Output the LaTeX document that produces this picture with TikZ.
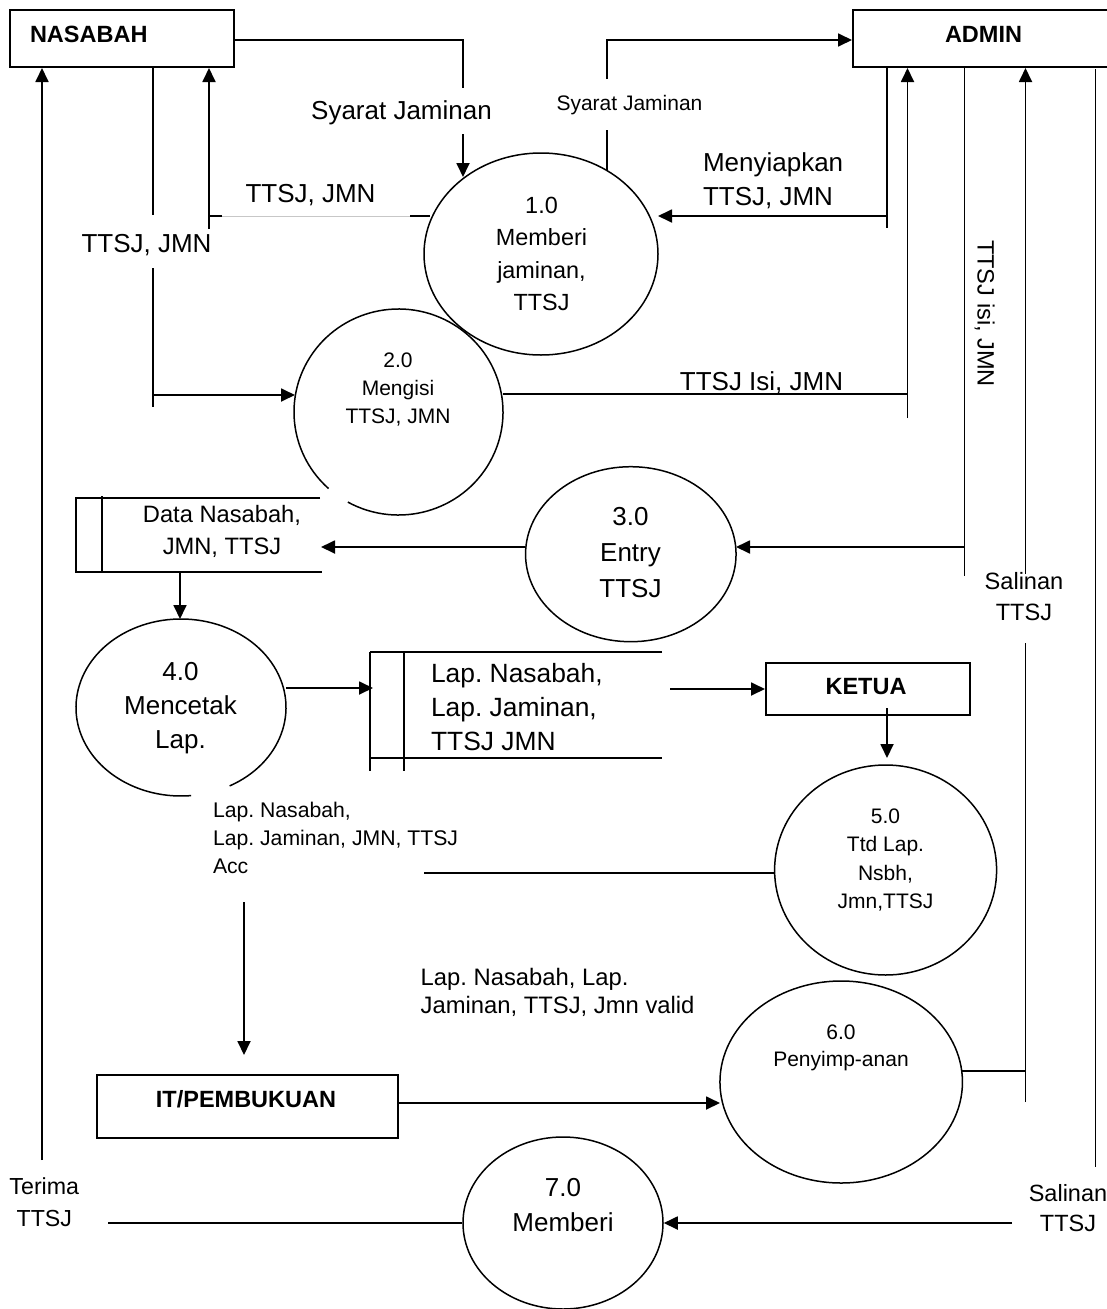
\documentclass[tikz,border=0pt]{standalone}
\usepackage{fontspec}
\setmainfont{Liberation Sans}
\usetikzlibrary{arrows.meta,shapes.geometric}
\frenchspacing
\newcommand\cs{\rule[-0.142em]{0pt}{1em}}
\newcommand\fsz[2]{\fontsize{#1pt}{#2pt}\selectfont}
\begin{document}
\begin{tikzpicture}[x=1pt,y=-1pt,
  txt/.style={inner sep=0pt, outer sep=0pt, align=center},
  bt/.style={txt, font=\fsz{23.5}{28}\bfseries},
  box/.style={draw, line width=2pt, rectangle, inner sep=0pt, anchor=north west},
  proc/.style={ellipse, draw, line width=1.5pt, inner sep=0pt},
  el/.style={line width=1.5pt},
  ln/.style={line width=1.3pt},
  ar/.style={line width=1.8pt, -{Triangle[length=14pt,width=13pt]}},
  st/.style={line width=2pt}]
\useasboundingbox (0,0) rectangle (1107,1309);
\fill[white] (0,0) rectangle (1107,1309);

% external entities
\node[box, minimum width=224pt, minimum height=57pt] (nas) at (9,9) {};
\node[bt, anchor=west] (nasT) at (30,34) {\cs NASABAH};
\node[box, minimum width=263pt, minimum height=57pt] (adm) at (852,9) {};
\node[bt] (admT) at (983.5,34) {\cs ADMIN};
\node[box, minimum width=203.5pt, minimum height=52pt] (ket) at (765,662) {};
\node[bt] (ketT) at (866,686) {\cs KETUA};
\node[box, minimum width=301pt, minimum height=63pt] (itb) at (96.3,1074) {};
\node[bt] (itT) at (246,1099) {\cs IT/PEMBUKUAN};

% processes
\node[proc, minimum width=234pt, minimum height=202pt] (p1) at (541,254) {};
\node[txt, font=\fsz{23.4}{32.3}] (p1T) at (541.5,253.5) {\cs 1.0\\\cs Memberi\\\cs jaminan,\\\cs TTSJ};
\node[proc, draw=none, minimum width=209pt, minimum height=206pt] (p2) at (398.5,412) {};
\draw[el] (p2.center) ++(241:104.5pt and 103pt) arc[start angle=241, end angle=588, x radius=104.5pt, y radius=103pt];
\node[txt, font=\fsz{21}{28}] (p2T) at (398,388) {\cs 2.0\\\cs Mengisi\\\cs TTSJ, JMN};
\node[proc, minimum width=210.5pt, minimum height=175pt] (p3) at (630.8,554.2) {};
\node[txt, font=\fsz{26}{36}] (p3T) at (630.5,552) {\cs 3.0\\\cs Entry\\\cs TTSJ};
\node[proc, draw=none, minimum width=210pt, minimum height=177pt] (p4) at (181,707.5) {};
\draw[el] (p4.center) ++(297.6:105pt and 88.5pt) arc[start angle=297.6, end angle=635.5, x radius=105pt, y radius=88.5pt];
\node[txt, font=\fsz{26}{34}] (p4T) at (180.5,706) {\cs 4.0\\\cs Mencetak\\\cs Lap.};
\node[proc, minimum width=222pt, minimum height=210pt] (p5) at (885.6,870) {};
\node[txt, font=\fsz{21}{28.3}] (p5T) at (885.5,858.5) {\cs 5.0\\\cs Ttd Lap.\\\cs Nsbh,\\\cs Jmn,TTSJ};
\node[proc, minimum width=242.5pt, minimum height=202pt] (p6) at (841.2,1082) {};
\node[txt, font=\fsz{21}{27}] (p6T) at (841,1046.5) {\cs 6.0\\\cs Penyimp-anan};
\node[proc, minimum width=200pt, minimum height=172pt] (p7) at (563,1223) {};
\node[txt, font=\fsz{26}{35}] (p7T) at (563,1204.5) {\cs 7.0\\\cs Memberi};

% data stores
\draw[st] (320,498) -- (76,498) -- (76,572) -- (322,572);
\draw[st] (102,496) -- (102,572);
\node[txt, font=\fsz{23.7}{31.7}] (ds1) at (222,530) {\cs Data Nasabah,\\\cs JMN, TTSJ};
\draw[st] (662,652) -- (370,652);
\draw[st] (370,758) -- (662,758);
\draw[st] (370,652) -- (370,771);
\draw[st] (404,652) -- (404,771);
\node[txt, align=left, anchor=west, font=\fsz{26.4}{34}] (ds2) at (431,707) {\cs Lap. Nasabah,\\\cs Lap. Jaminan,\\\cs TTSJ JMN};

% flow labels
\node[txt, font=\fsz{26}{32}] (lsj1) at (401.5,111) {\cs Syarat Jaminan};
\node[txt, font=\fsz{21}{26}] (lsj2) at (629.5,104) {\cs Syarat Jaminan};
\node[txt, align=left, anchor=west, font=\fsz{26}{34}] (lmen) at (703,179) {\cs Menyiapkan\\\cs TTSJ, JMN};
\node[txt, font=\fsz{26}{32}] (ltj1) at (310.5,193) {\cs TTSJ, JMN};
\node[txt, font=\fsz{26}{32}] (ltj2) at (146.5,243) {\cs TTSJ, JMN};
\node[txt, font=\fsz{26}{32}] (ltji) at (761.5,381) {\cs TTSJ Isi, JMN};
\node[txt, rotate=-90, font=\fsz{23.6}{28}] (lrot) at (986,313.5) {\cs TTSJ isi, JMN};
\node[txt, font=\fsz{23.6}{31}] (lsal1) at (1024,596.5) {\cs Salinan\\\cs TTSJ};
\node[txt, align=left, anchor=west, font=\fsz{21.2}{28.3}] (lacc) at (213,838) {\cs Lap. Nasabah,\\\cs Lap. Jaminan, JMN, TTSJ\\\cs Acc};
\node[txt, align=left, anchor=west, font=\fsz{23.8}{28.3}] (lval) at (420.7,991) {\cs Lap. Nasabah, Lap.\\\cs Jaminan, TTSJ, Jmn valid};
\node[txt, font=\fsz{23.2}{32}] (lter) at (44.3,1202) {\cs Terima\\\cs TTSJ};
\node[txt, font=\fsz{23.5}{30.5}] (lsal2) at (1068,1208) {\cs Salinan\\\cs TTSJ};

% connectors
% NASABAH -> 1.0 (Syarat Jaminan)
\draw[ln] (nas.east |- 0,40) -| (463,88);
\draw[ar] (463,134) -- (463,177);
% 1.0 -> ADMIN (Syarat Jaminan)
\draw[ln] (607,170) -- (607,130);
\draw[ar] (607,79) |- (adm.west |- 0,40);
% ADMIN -> 1.0 (Menyiapkan)
\draw[ln] (adm.south -| 887,0) -- (887,228);
\draw[ar] (887,216) -- (658,216);
% 1.0 -> NASABAH (TTSJ, JMN)
\draw[ln] (430,216) -- (410,216);
\draw[line width=0.8pt, black!22] (410,216) -- (222,216);
\draw[ln] (222,216) -- (209,216);
\draw[ar] (209,229) -- (nas.south -| 209,0);
% NASABAH -> 2.0
\draw[ln] (nas.south -| 153,0) -- (153,215);
\draw[ln] (153,268) -- (153,407);
\draw[ar] (153,395) -- (295,395);
% 2.0 -> ADMIN
\draw[ln] (503,394) -- (907.5,394);
\draw[ar] (907.5,418) -- (adm.south -| 907.5,0);
% ADMIN -> 3.0
\draw[ln] (adm.south -| 964.5,0) -- (964.5,576);
\draw[ar] (964.5,547) -- (736,547);
% 3.0 -> store 1
\draw[ar] (525,547) -- (321,547);
% store 1 -> 4.0
\draw[ar] (180,572) -- (180,619);
% 4.0 -> store 2
\draw[ar] (286,688) -- (373,688);
% store 2 -> KETUA
\draw[ar] (670,689) -- (ket.west |- 0,689);
% KETUA -> 5.0
\draw[ar] (887,708) -- (887,758);
% 5.0 -> IT
\draw[ln] (p5.west |- 0,873) -- (424,873);
\draw[ar] (244,902) -- (244,1055);
% IT -> 6.0
\draw[ar] (itb.east |- 0,1103) -- (720,1103);
% 6.0 -> ADMIN
\draw[ln] (962,1071) -- (1025.5,1071);
\draw[ln] (1025.5,1102) -- (1025.5,643);
\draw[ar] (1025.5,574) -- (adm.south -| 1025.5,0);
% ADMIN -> 7.0
\draw[ln] (1095.5,69) -- (1095.5,1167);
\draw[ar] (1012,1223) -- (p7.east);
% 7.0 -> NASABAH
\draw[ln] (p7.west) -- (108,1223);
\draw[ar] (42,1160) -- (nas.south -| 42,0);
\end{tikzpicture}
\end{document}
